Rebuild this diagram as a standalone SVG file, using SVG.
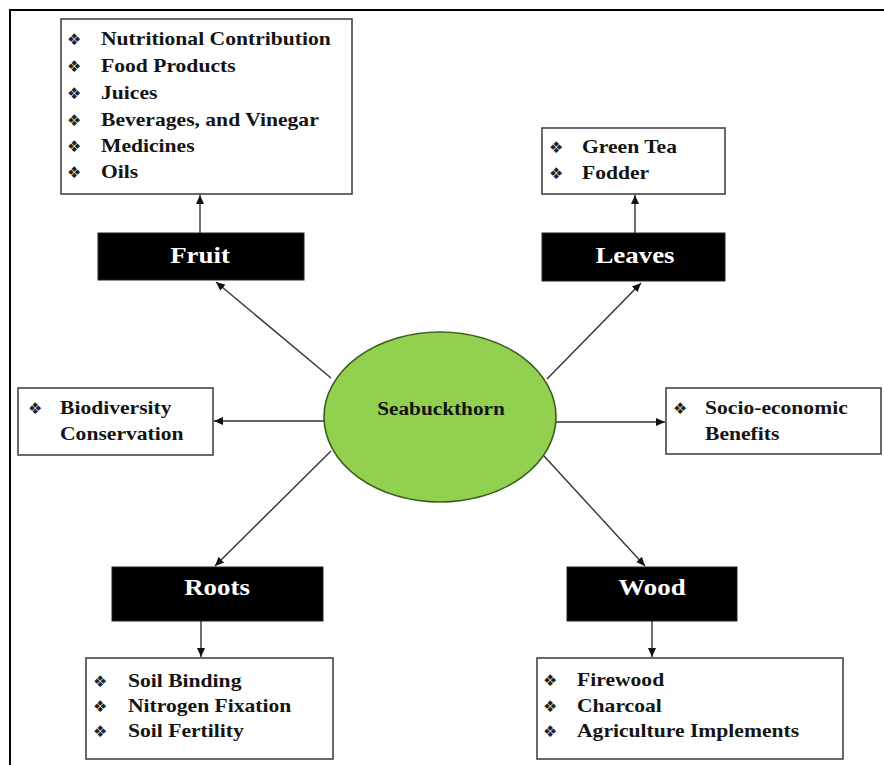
<svg xmlns="http://www.w3.org/2000/svg" width="884" height="765" viewBox="0 0 884 765">
<style>
.box{fill:#fff;stroke:#444;stroke-width:1.6}
.blk{fill:#000;stroke:#222;stroke-width:1}
.li{font-family:"Liberation Serif","Times New Roman",serif;font-weight:bold;font-size:18px;fill:#141414}
.lb{font-family:"Liberation Serif","Times New Roman",serif;font-weight:bold;font-size:23px;fill:#fff}
.b{font-family:"DejaVu Sans",sans-serif;font-size:16px;fill:#222}
.con{stroke:#333;stroke-width:1.4;fill:none;marker-end:url(#ah)}
</style>
<defs>
<marker id="ah" markerWidth="10" markerHeight="10" refX="9" refY="5" orient="auto" markerUnits="userSpaceOnUse">
<path d="M0,1 L9,5 L0,9 Z" fill="#111"/>
</marker>
</defs>
<rect width="884" height="765" fill="#fff"/>
<path d="M10,765 V10 H884" fill="none" stroke="#000" stroke-width="2"/>

<g id="connectors">
<line class="con" x1="200" y1="233" x2="200" y2="195"/>
<line class="con" x1="635" y1="233" x2="635" y2="195"/>
<line class="con" x1="201" y1="621" x2="201" y2="657"/>
<line class="con" x1="652" y1="621" x2="652" y2="657"/>
<line class="con" x1="331" y1="378" x2="216" y2="282"/>
<line class="con" x1="547" y1="379" x2="641" y2="283"/>
<line class="con" x1="331" y1="451" x2="215" y2="566"/>
<line class="con" x1="544" y1="456" x2="645" y2="566"/>
<line class="con" x1="324" y1="421" x2="214" y2="421"/>
<line class="con" x1="555" y1="422" x2="665" y2="422"/>
</g>

<g id="seabuckthorn">
<ellipse cx="440" cy="417" rx="116" ry="85" fill="#92d050" stroke="#3b5e1c" stroke-width="1.6"/>
<text class="li" fill="#1a2a10" transform="matrix(1.12 0 0 1 441 415)" text-anchor="middle" style="font-size:19px">Seabuckthorn</text>
</g>

<g id="fruit-list">
<rect class="box" x="61" y="19" width="291" height="175"/>
<text class="b" x="67" y="45">❖</text><text class="li" transform="matrix(1.2 0 0 1 101 45)">Nutritional Contribution</text>
<text class="b" x="67" y="72">❖</text><text class="li" transform="matrix(1.2 0 0 1 101 72)">Food Products</text>
<text class="b" x="67" y="99">❖</text><text class="li" transform="matrix(1.2 0 0 1 101 99)">Juices</text>
<text class="b" x="67" y="126">❖</text><text class="li" transform="matrix(1.2 0 0 1 101 126)">Beverages, and Vinegar</text>
<text class="b" x="67" y="152">❖</text><text class="li" transform="matrix(1.2 0 0 1 101 152)">Medicines</text>
<text class="b" x="67" y="178">❖</text><text class="li" transform="matrix(1.2 0 0 1 101 178)">Oils</text>
</g>

<g id="fruit">
<rect class="blk" x="98" y="233" width="206" height="47"/>
<text class="lb" text-anchor="middle" transform="matrix(1.17 0 0 1 200 263)">Fruit</text>
</g>

<g id="leaves-list">
<rect class="box" x="542" y="128" width="183" height="66"/>
<text class="b" x="549" y="153">❖</text><text class="li" transform="matrix(1.2 0 0 1 582 153)">Green Tea</text>
<text class="b" x="549" y="179">❖</text><text class="li" transform="matrix(1.2 0 0 1 582 179)">Fodder</text>
</g>

<g id="leaves">
<rect class="blk" x="542" y="233" width="183" height="48"/>
<text class="lb" text-anchor="middle" transform="matrix(1.17 0 0 1 635 263)">Leaves</text>
</g>

<g id="biodiversity">
<rect class="box" x="18" y="388" width="195" height="67"/>
<text class="b" x="28" y="414">❖</text><text class="li" transform="matrix(1.2 0 0 1 60 414)">Biodiversity</text>
<text class="li" transform="matrix(1.2 0 0 1 60 440)">Conservation</text>
</g>

<g id="socio">
<rect class="box" x="666" y="388" width="215" height="66"/>
<text class="b" x="673" y="414">❖</text><text class="li" transform="matrix(1.2 0 0 1 705 414)">Socio-economic</text>
<text class="li" transform="matrix(1.2 0 0 1 705 440)">Benefits</text>
</g>

<g id="roots">
<rect class="blk" x="112" y="567" width="211" height="54"/>
<text class="lb" text-anchor="middle" transform="matrix(1.17 0 0 1 217 595)">Roots</text>
</g>

<g id="roots-list">
<rect class="box" x="86" y="658" width="247" height="101"/>
<text class="b" x="93" y="687">❖</text><text class="li" transform="matrix(1.2 0 0 1 128 687)">Soil Binding</text>
<text class="b" x="93" y="712">❖</text><text class="li" transform="matrix(1.2 0 0 1 128 712)">Nitrogen Fixation</text>
<text class="b" x="93" y="737">❖</text><text class="li" transform="matrix(1.2 0 0 1 128 737)">Soil Fertility</text>
</g>

<g id="wood">
<rect class="blk" x="567" y="567" width="170" height="54"/>
<text class="lb" text-anchor="middle" transform="matrix(1.17 0 0 1 652 595)">Wood</text>
</g>

<g id="wood-list">
<rect class="box" x="537" y="658" width="306" height="101"/>
<text class="b" x="543" y="686">❖</text><text class="li" transform="matrix(1.2 0 0 1 577 686)">Firewood</text>
<text class="b" x="543" y="712">❖</text><text class="li" transform="matrix(1.2 0 0 1 577 712)">Charcoal</text>
<text class="b" x="543" y="737">❖</text><text class="li" transform="matrix(1.2 0 0 1 577 737)">Agriculture Implements</text>
</g>
</svg>
